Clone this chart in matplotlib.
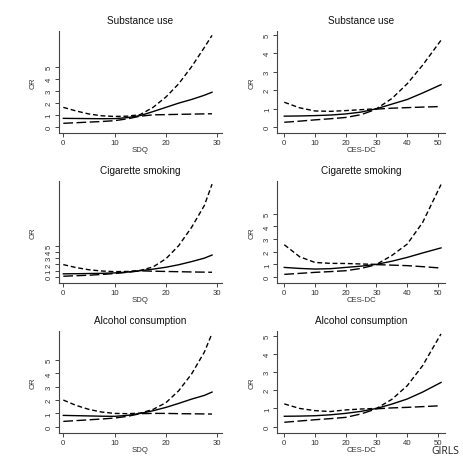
import matplotlib
matplotlib.use("Agg")
import matplotlib.pyplot as plt

plt.rcParams['font.family'] = ['Liberation Sans', 'DejaVu Sans']

titles = ["Substance use", "Substance use", "Cigarette smoking", "Cigarette smoking",
          "Alcohol consumption", "Alcohol consumption"]
xlabels = ["SDQ", "CES-DC"] * 3

sdq_x = [0, 2.5, 5, 7.5, 10, 12.5, 15, 17.5, 20, 22.5, 25, 27.5, 29]
ces_x = [0, 5, 10, 15, 20, 25, 30, 35, 40, 45, 51]

# Substance use - SDQ
su_sdq_or = [0.74, 0.73, 0.72, 0.71, 0.72, 0.80, 0.97, 1.30, 1.65, 2.00, 2.30, 2.65, 2.90]
su_sdq_hi = [1.65, 1.35, 1.10, 0.95, 0.90, 0.92, 1.05, 1.65, 2.50, 3.60, 5.00, 6.60, 7.60]
su_sdq_lo = [0.33, 0.38, 0.43, 0.48, 0.55, 0.70, 0.92, 1.03, 1.05, 1.07, 1.09, 1.11, 1.12]
# Substance use - CES-DC
su_ces_or = [0.60, 0.61, 0.63, 0.66, 0.72, 0.82, 1.00, 1.25, 1.50, 1.85, 2.30]
su_ces_hi = [1.35, 1.05, 0.88, 0.86, 0.90, 0.95, 1.00, 1.55, 2.35, 3.35, 4.70]
su_ces_lo = [0.27, 0.33, 0.40, 0.46, 0.53, 0.68, 0.98, 1.03, 1.06, 1.09, 1.12]
# Cigarette smoking - SDQ
cs_sdq_or = [0.50, 0.52, 0.55, 0.58, 0.65, 0.78, 1.00, 1.25, 1.55, 1.95, 2.45, 3.00, 3.50]
cs_sdq_hi = [1.97, 1.50, 1.15, 0.95, 0.85, 0.88, 1.05, 1.60, 2.90, 5.00, 7.90, 11.40, 14.80]
cs_sdq_lo = [0.12, 0.20, 0.28, 0.40, 0.55, 0.75, 0.98, 0.92, 0.88, 0.84, 0.80, 0.77, 0.75]
# Cigarette smoking - CES-DC
cs_ces_or = [0.76, 0.68, 0.63, 0.66, 0.76, 0.86, 1.00, 1.25, 1.55, 1.90, 2.30]
cs_ces_hi = [2.55, 1.60, 1.15, 1.08, 1.07, 1.03, 1.00, 1.70, 2.60, 4.30, 7.30]
cs_ces_lo = [0.21, 0.29, 0.37, 0.43, 0.50, 0.68, 0.98, 0.94, 0.90, 0.82, 0.71]
# Alcohol consumption - SDQ
al_sdq_or = [0.85, 0.83, 0.81, 0.79, 0.78, 0.85, 1.00, 1.20, 1.45, 1.75, 2.07, 2.35, 2.60]
al_sdq_hi = [2.00, 1.60, 1.30, 1.10, 1.00, 0.98, 1.02, 1.30, 1.80, 2.70, 3.95, 5.60, 7.00]
al_sdq_lo = [0.40, 0.46, 0.52, 0.58, 0.65, 0.78, 0.98, 1.00, 1.00, 0.98, 0.97, 0.96, 0.95]
# Alcohol consumption - CES-DC
al_ces_or = [0.57, 0.58, 0.60, 0.65, 0.73, 0.84, 1.00, 1.24, 1.52, 1.90, 2.43]
al_ces_hi = [1.25, 1.00, 0.88, 0.83, 0.92, 0.97, 1.00, 1.50, 2.25, 3.35, 5.10]
al_ces_lo = [0.24, 0.31, 0.38, 0.44, 0.51, 0.70, 0.98, 1.03, 1.06, 1.10, 1.15]

panels = [
    (sdq_x, su_sdq_or, su_sdq_hi, su_sdq_lo),
    (ces_x, su_ces_or, su_ces_hi, su_ces_lo),
    (sdq_x, cs_sdq_or, cs_sdq_hi, cs_sdq_lo),
    (ces_x, cs_ces_or, cs_ces_hi, cs_ces_lo),
    (sdq_x, al_sdq_or, al_sdq_hi, al_sdq_lo),
    (ces_x, al_ces_or, al_ces_hi, al_ces_lo),
]
xticks = [[0, 10, 20, 30], [0, 10, 20, 30, 40, 50]] * 3
yticks = [0, 1, 2, 3, 4, 5]
ylims = [(-0.47, 7.96), (-0.31, 5.2), (-0.96, 15.3), (-0.47, 7.58), (-0.47, 7.18), (-0.35, 5.26)]
xlims = [(-0.9, 30.94), (-2.28, 52.3)] * 3

W = H = 464.0
fig = plt.figure(figsize=(4.64, 4.64), dpi=100)
fig.patch.set_facecolor('white')

cols = [(58.7, 222.0), (277.3, 445.0)]
for i, (x, orv, hi, lo) in enumerate(panels):
    r, c = divmod(i, 2)
    top = 32 + 150 * r
    bot = 134 + 150 * r
    l, rr = cols[c]
    ax = fig.add_axes([l / W, 1 - bot / H, (rr - l) / W, (bot - top) / H])
    ax.plot(x, orv, color='black', lw=1.0)
    ax.plot(x, hi, color='black', lw=1.0, dashes=(3.5, 2))
    ax.plot(x, lo, color='black', lw=1.0, dashes=(7, 2.5))
    ax.set_xlim(*xlims[i])
    ax.set_ylim(*ylims[i])
    ax.set_xticks(xticks[i])
    ax.set_yticks(yticks)
    for s in ['top', 'right']:
        ax.spines[s].set_visible(False)
    for s in ['left', 'bottom']:
        ax.spines[s].set_color('#444444')
        ax.spines[s].set_linewidth(0.8)
    ax.tick_params(axis='both', length=3, width=0.7, color='#444444',
                   labelsize=5.6, pad=1.5, labelcolor='#333333')
    for lab in ax.get_yticklabels():
        lab.set_rotation(90)
        lab.set_va('center')
    ax.set_title(titles[i], fontsize=7.2, pad=6, color='#111111')
    ax.set_xlabel(xlabels[i], fontsize=5.6, labelpad=-0.5, color='#333333')
    ax.set_ylabel("OR", fontsize=5.6, labelpad=6, color='#333333')

fig.text(445 / W, 1 - 452 / H, "GIRLS", fontsize=7.5, family=['Open Sans', 'DejaVu Sans'],
         ha='center', va='center', color='#222222')

fig.savefig("out.png", dpi=100)
